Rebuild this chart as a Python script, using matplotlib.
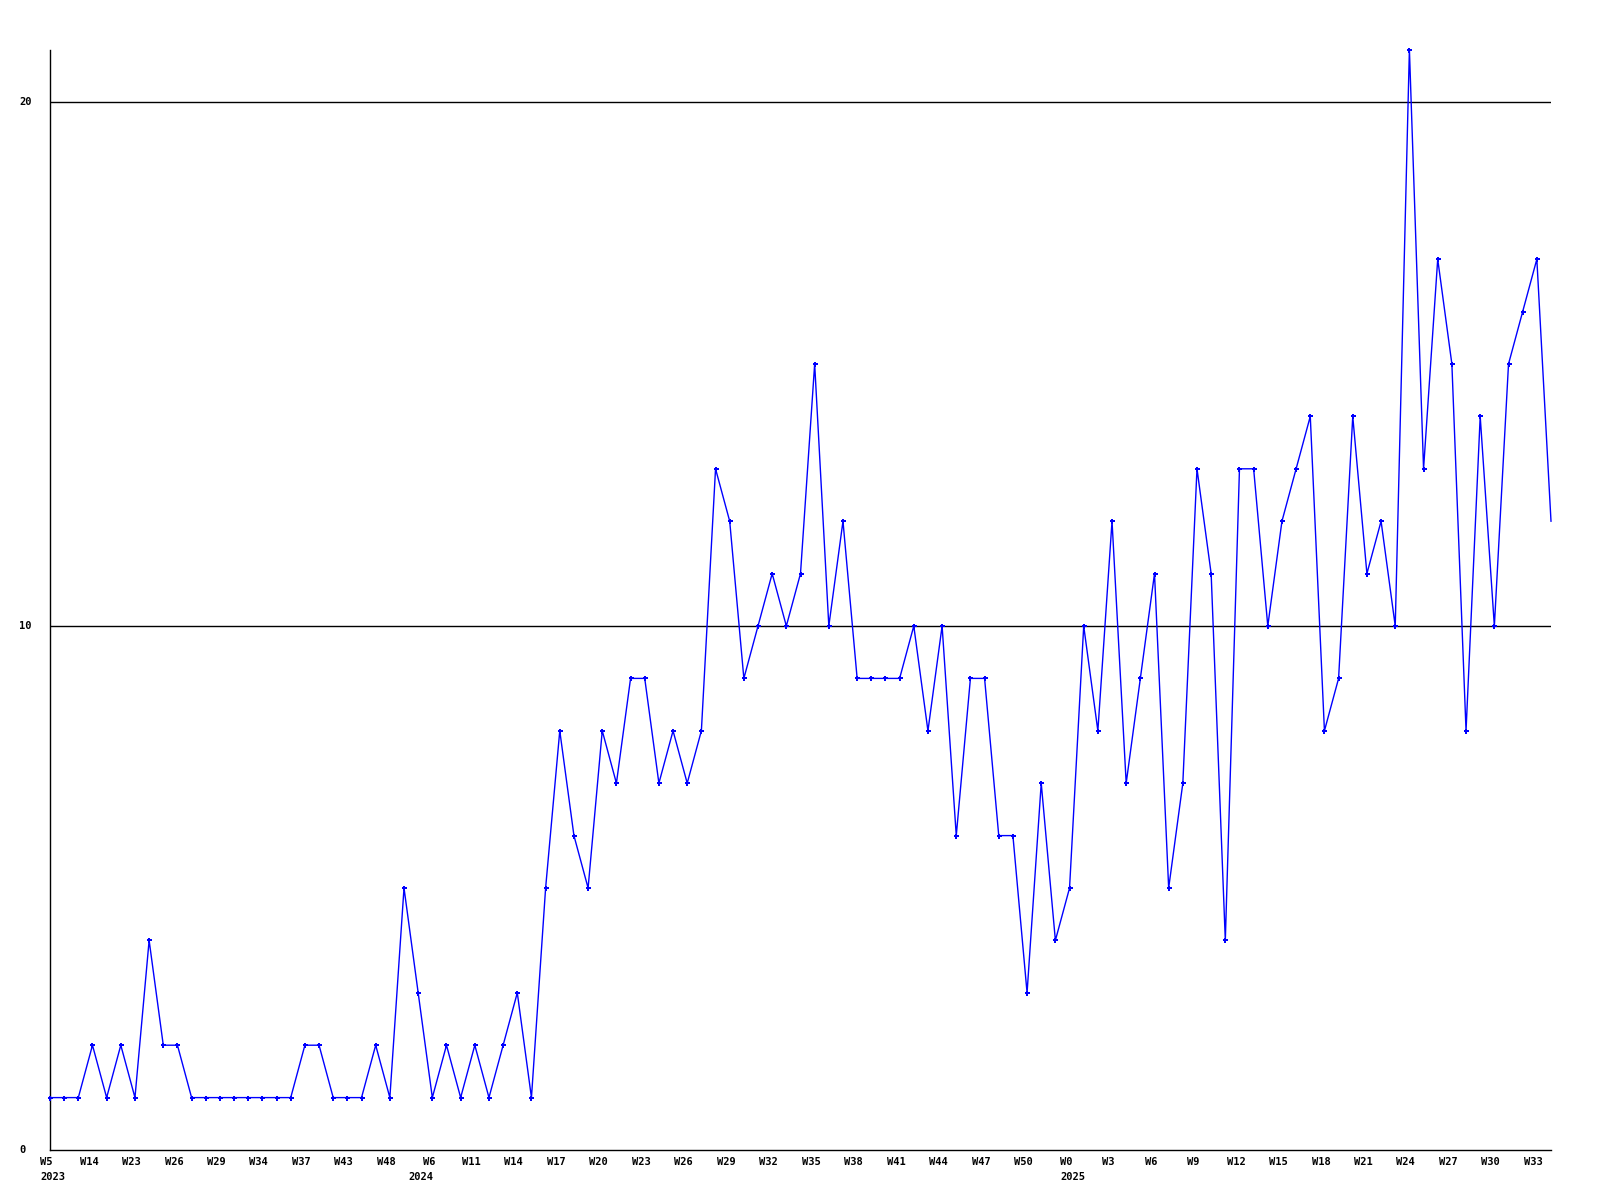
import matplotlib
matplotlib.use("Agg")
import matplotlib.pyplot as plt

values = [1, 1, 1, 2, 1, 2, 1, 4, 2, 2,
          1, 1, 1, 1, 1, 1, 1, 1, 2, 2,
          1, 1, 1, 2, 1, 5, 3, 1, 2, 1,
          2, 1, 2, 3, 1, 5, 8, 6, 5, 8,
          7, 9, 9, 7, 8, 7, 8, 13, 12, 9,
          10, 11, 10, 11, 15, 10, 12, 9, 9, 9,
          9, 10, 8, 10, 6, 9, 9, 6, 6, 3,
          7, 4, 5, 10, 8, 12, 7, 9, 11, 5,
          7, 13, 11, 4, 13, 13, 10, 12, 13, 14,
          8, 9, 14, 11, 12, 10, 21, 13, 17, 15,
          8, 14, 10, 15, 16, 17, 12]

week_labels = ["W5", "W14", "W23", "W26", "W29", "W34", "W37", "W43", "W48",
               "W6", "W11", "W14", "W17", "W20", "W23", "W26", "W29", "W32",
               "W35", "W38", "W41", "W44", "W47", "W50", "W0", "W3", "W6",
               "W9", "W12", "W15", "W18", "W21", "W24", "W27", "W30", "W33"]
label_step = 3
year_labels = ["2023", "2024", "2025"]
year_positions = [0, 26, 72]
y_ticks = [0, 10, 20]

W, H = 1600, 1200
fig = plt.figure(figsize=(16, 12), dpi=100)
left, right, top, bottom = 50, 1551, 49.6, 1150
ax = fig.add_axes([left / W, 1 - bottom / H, (right - left) / W, (bottom - top) / H])

xs = list(range(len(values)))
ax.plot(xs, values, color=(0, 0, 1), lw=1.0, marker="P", markersize=3.6,
        markeredgewidth=0, markerfacecolor=(0, 0, 1),
        markevery=list(range(len(values) - 1)), zorder=3, clip_on=False)

ax.set_xlim(0, len(values) - 1)
ax.set_ylim(0, 21)
for s in ["top", "right"]:
    ax.spines[s].set_visible(False)
for s in ["left", "bottom"]:
    ax.spines[s].set_color("black")
    ax.spines[s].set_linewidth(1.0)

for yv in y_ticks[1:]:
    ax.axhline(yv, color="black", lw=1.0, zorder=1)

ax.set_xticks([])
ax.set_yticks([])

font = dict(family="DejaVu Sans Mono", weight="bold", size=7.5, color="black")
ah = bottom - top
for yv in y_ticks:
    ax.text(19 / W, 1 - (bottom - yv * ah / 21) / H, str(yv), transform=fig.transFigure,
            ha="left", va="center", **font)

xt = ax.get_xaxis_transform()
for i, lab in enumerate(week_labels):
    ax.text(i * label_step - 0.25, -12 / ah, lab, transform=xt, ha="center", va="center",
            clip_on=False, **font)
for pos, lab in zip(year_positions, year_labels):
    ax.text(pos + 0.2, -27 / ah, lab, transform=xt, ha="center", va="center",
            clip_on=False, **font)

fig.savefig("out.png", dpi=100)
